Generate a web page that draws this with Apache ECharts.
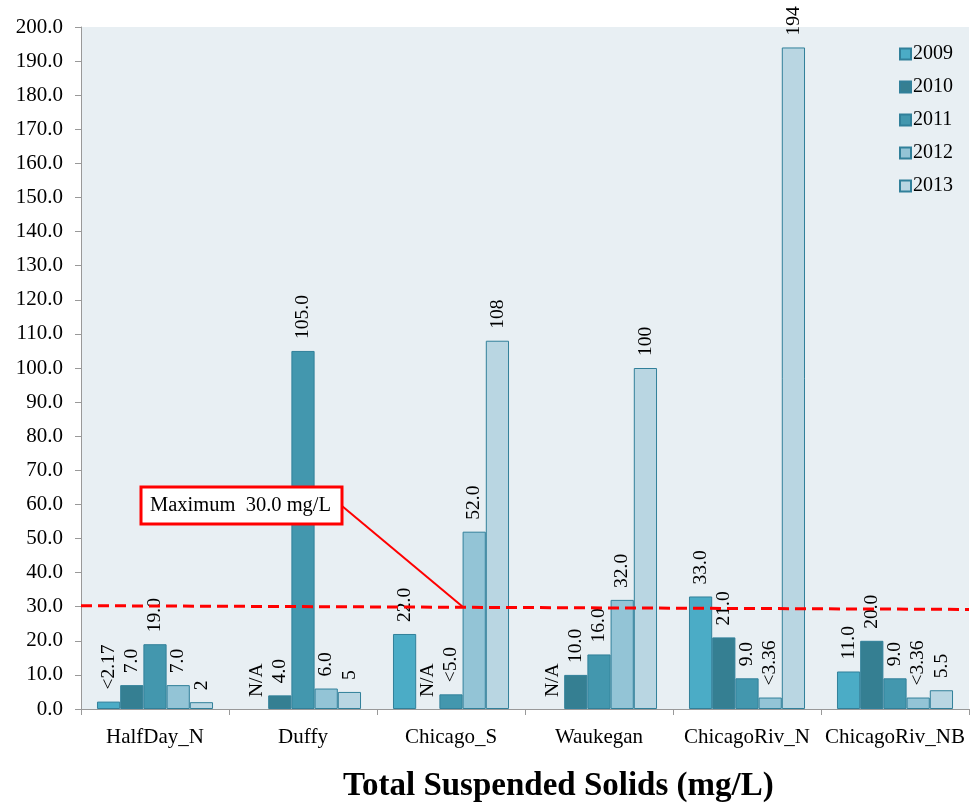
<!DOCTYPE html>
<html>
<head>
<meta charset="utf-8">
<script src="https://cdn.jsdelivr.net/npm/echarts@6/dist/echarts.min.js"></script>
<style>html,body{margin:0;padding:0;background:#fff}#c{width:971px;height:811px}</style>
</head>
<body>
<div id="c"></div>
<script>
const categories = ['HalfDay_N', 'Duffy', 'Chicago_S', 'Waukegan', 'ChicagoRiv_N', 'ChicagoRiv_NB'];
const years = ['2009', '2010', '2011', '2012', '2013'];
// values per year, one per category (null = N/A)
const v2009 = [2.17, null, 22, null, 33, 11];
const v2010 = [7, 4, null, 10, 21, 20];
const v2011 = [19, 105, 4.3, 16, 9, 9];
const v2012 = [7, 6, 52, 32, 3.36, 3.36];
const v2013 = [2, 5, 108, 100, 194, 5.5];
// labels as printed
const l2009 = ['<2.17', 'N/A', '22.0', 'N/A', '33.0', '11.0'];
const l2010 = ['7.0', '4.0', 'N/A', '10.0', '21.0', '20.0'];
const l2011 = ['19.0', '105.0', '<5.0', '16.0', '9.0', '9.0'];
const l2012 = ['7.0', '6.0', '52.0', '32.0', '<3.36', '<3.36'];
const l2013 = ['2', '5', '108', '100', '194', '5.5'];
const limitLine = [30.3, 29.2]; // dashed maximum line (start, end)
const limitText = 'Maximum  30.0 mg/L';
const titleText = 'Total Suspended Solids (mg/L)';

const colors = ['#4bacc6', '#357f92', '#4397ae', '#93c4d6', '#b9d6e2'];
const values = [v2009, v2010, v2011, v2012, v2013];
const labels = [l2009, l2010, l2011, l2012, l2013];
const FONT = '"Liberation Serif", "Times New Roman", serif';

const series = years.map((y, i) => ({
  name: y,
  type: 'bar',
  barGap: '0%',
  barCategoryGap: '21.6%',
  itemStyle: { color: colors[i], borderColor: '#31809a', borderWidth: 1 },
  data: values[i].map((v, j) => {
    const lab = labels[i][j];
    if (v === null) {
      return {
        value: 0,
        itemStyle: { color: 'transparent', borderWidth: 0 },
        label: { show: true, formatter: lab }
      };
    }
    return { value: v, label: { show: true, formatter: lab } };
  }),
  label: {
    show: true,
    position: 'top',
    rotate: 90,
    align: 'left',
    verticalAlign: 'middle',
    distance: 12,
    fontFamily: FONT,
    fontSize: 19.5,
    color: '#000'
  },
  z: 2
}));

series.push({
  name: 'limit',
  type: 'line',
  xAxisIndex: 1,
  yAxisIndex: 0,
  data: [[0, limitLine[0]], [1, limitLine[1]]],
  symbol: 'none',
  lineStyle: { color: '#ff0000', width: 3, type: [11, 6] },
  silent: true,
  z: 5
});

const chart = echarts.init(document.getElementById('c'));
chart.setOption({
  animation: false,
  backgroundColor: '#ffffff',
  grid: {
    left: 81, right: 2, top: 27, bottom: 102,
    show: true, backgroundColor: '#e8eff3', borderWidth: 0
  },
  legend: {
    data: years,
    orient: 'vertical',
    left: 894,
    top: 39,
    itemWidth: 11,
    itemHeight: 11,
    itemGap: 13,
    icon: 'rect',
    textStyle: { fontFamily: FONT, fontSize: 20, color: '#000', padding: [0, 0, 0, -3] }
  },
  xAxis: [{
    type: 'category',
    data: categories,
    axisLine: { lineStyle: { color: '#999999', width: 1 } },
    axisTick: { show: true, interval: 0, alignWithLabel: false, length: 6, lineStyle: { color: '#999999' } },
    axisLabel: { interval: 0, fontFamily: FONT, fontSize: 21, color: '#000', margin: 18 },
    splitLine: { show: false }
  }, {
    type: 'value',
    min: 0, max: 1,
    show: false
  }],
  yAxis: {
    type: 'value',
    min: 0, max: 200, interval: 10,
    axisLine: { show: true, lineStyle: { color: '#999999' } },
    axisTick: { show: true, length: 6, lineStyle: { color: '#999999' } },
    axisLabel: { fontFamily: FONT, fontSize: 21, color: '#000', margin: 18, formatter: v => v.toFixed(1) },
    splitLine: { show: false }
  },
  series: series,
  graphic: [
    { type: 'line', shape: { x1: 342, y1: 506, x2: 463, y2: 607 }, style: { stroke: '#ff0000', lineWidth: 2 }, z: 10 },
    { type: 'rect', shape: { x: 141, y: 487, width: 201, height: 37 }, style: { fill: '#ffffff', stroke: '#ff0000', lineWidth: 3 }, z: 10 },
    { type: 'text', x: 150, y: 506, style: { text: limitText, font: '20.5px ' + FONT, fill: '#000', textVerticalAlign: 'middle' }, z: 11 },
    { type: 'text', x: 343, y: 786, style: { text: titleText, font: 'bold 33px ' + FONT, fill: '#000', textVerticalAlign: 'middle' }, z: 11 }
  ]
});
</script>
</body>
</html>
